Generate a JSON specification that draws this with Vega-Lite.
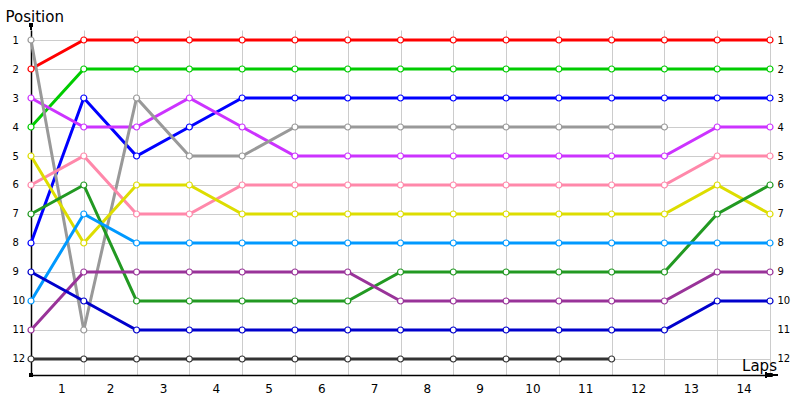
{
  "$schema": "https://vega.github.io/schema/vega-lite/v6.json",
  "width": 739,
  "height": 345,
  "autosize": "none",
  "padding": {"left": 31, "top": 30, "right": 30, "bottom": 25},
  "background": "white",
  "config": {
    "view": {"stroke": null},
    "font": "DejaVu Sans",
    "axis": {"labelFont": "DejaVu Sans", "titleFont": "DejaVu Sans", "labelColor": "black", "titleColor": "black"}
  },
  "data": {
    "values": [
      {"driver": "red", "lap": 0, "pos": 2}, {"driver": "red", "lap": 1, "pos": 1}, {"driver": "red", "lap": 2, "pos": 1}, {"driver": "red", "lap": 3, "pos": 1}, {"driver": "red", "lap": 4, "pos": 1}, {"driver": "red", "lap": 5, "pos": 1}, {"driver": "red", "lap": 6, "pos": 1}, {"driver": "red", "lap": 7, "pos": 1}, {"driver": "red", "lap": 8, "pos": 1}, {"driver": "red", "lap": 9, "pos": 1}, {"driver": "red", "lap": 10, "pos": 1}, {"driver": "red", "lap": 11, "pos": 1}, {"driver": "red", "lap": 12, "pos": 1}, {"driver": "red", "lap": 13, "pos": 1}, {"driver": "red", "lap": 14, "pos": 1},
      {"driver": "green", "lap": 0, "pos": 4}, {"driver": "green", "lap": 1, "pos": 2}, {"driver": "green", "lap": 2, "pos": 2}, {"driver": "green", "lap": 3, "pos": 2}, {"driver": "green", "lap": 4, "pos": 2}, {"driver": "green", "lap": 5, "pos": 2}, {"driver": "green", "lap": 6, "pos": 2}, {"driver": "green", "lap": 7, "pos": 2}, {"driver": "green", "lap": 8, "pos": 2}, {"driver": "green", "lap": 9, "pos": 2}, {"driver": "green", "lap": 10, "pos": 2}, {"driver": "green", "lap": 11, "pos": 2}, {"driver": "green", "lap": 12, "pos": 2}, {"driver": "green", "lap": 13, "pos": 2}, {"driver": "green", "lap": 14, "pos": 2},
      {"driver": "blue", "lap": 0, "pos": 8}, {"driver": "blue", "lap": 1, "pos": 3}, {"driver": "blue", "lap": 2, "pos": 5}, {"driver": "blue", "lap": 3, "pos": 4}, {"driver": "blue", "lap": 4, "pos": 3}, {"driver": "blue", "lap": 5, "pos": 3}, {"driver": "blue", "lap": 6, "pos": 3}, {"driver": "blue", "lap": 7, "pos": 3}, {"driver": "blue", "lap": 8, "pos": 3}, {"driver": "blue", "lap": 9, "pos": 3}, {"driver": "blue", "lap": 10, "pos": 3}, {"driver": "blue", "lap": 11, "pos": 3}, {"driver": "blue", "lap": 12, "pos": 3}, {"driver": "blue", "lap": 13, "pos": 3}, {"driver": "blue", "lap": 14, "pos": 3},
      {"driver": "violet", "lap": 0, "pos": 3}, {"driver": "violet", "lap": 1, "pos": 4}, {"driver": "violet", "lap": 2, "pos": 4}, {"driver": "violet", "lap": 3, "pos": 3}, {"driver": "violet", "lap": 4, "pos": 4}, {"driver": "violet", "lap": 5, "pos": 5}, {"driver": "violet", "lap": 6, "pos": 5}, {"driver": "violet", "lap": 7, "pos": 5}, {"driver": "violet", "lap": 8, "pos": 5}, {"driver": "violet", "lap": 9, "pos": 5}, {"driver": "violet", "lap": 10, "pos": 5}, {"driver": "violet", "lap": 11, "pos": 5}, {"driver": "violet", "lap": 12, "pos": 5}, {"driver": "violet", "lap": 13, "pos": 4}, {"driver": "violet", "lap": 14, "pos": 4},
      {"driver": "grey", "lap": 0, "pos": 1}, {"driver": "grey", "lap": 1, "pos": 11}, {"driver": "grey", "lap": 2, "pos": 3}, {"driver": "grey", "lap": 3, "pos": 5}, {"driver": "grey", "lap": 4, "pos": 5}, {"driver": "grey", "lap": 5, "pos": 4}, {"driver": "grey", "lap": 6, "pos": 4}, {"driver": "grey", "lap": 7, "pos": 4}, {"driver": "grey", "lap": 8, "pos": 4}, {"driver": "grey", "lap": 9, "pos": 4}, {"driver": "grey", "lap": 10, "pos": 4}, {"driver": "grey", "lap": 11, "pos": 4}, {"driver": "grey", "lap": 12, "pos": 4},
      {"driver": "pink", "lap": 0, "pos": 6}, {"driver": "pink", "lap": 1, "pos": 5}, {"driver": "pink", "lap": 2, "pos": 7}, {"driver": "pink", "lap": 3, "pos": 7}, {"driver": "pink", "lap": 4, "pos": 6}, {"driver": "pink", "lap": 5, "pos": 6}, {"driver": "pink", "lap": 6, "pos": 6}, {"driver": "pink", "lap": 7, "pos": 6}, {"driver": "pink", "lap": 8, "pos": 6}, {"driver": "pink", "lap": 9, "pos": 6}, {"driver": "pink", "lap": 10, "pos": 6}, {"driver": "pink", "lap": 11, "pos": 6}, {"driver": "pink", "lap": 12, "pos": 6}, {"driver": "pink", "lap": 13, "pos": 5}, {"driver": "pink", "lap": 14, "pos": 5},
      {"driver": "yellow", "lap": 0, "pos": 5}, {"driver": "yellow", "lap": 1, "pos": 8}, {"driver": "yellow", "lap": 2, "pos": 6}, {"driver": "yellow", "lap": 3, "pos": 6}, {"driver": "yellow", "lap": 4, "pos": 7}, {"driver": "yellow", "lap": 5, "pos": 7}, {"driver": "yellow", "lap": 6, "pos": 7}, {"driver": "yellow", "lap": 7, "pos": 7}, {"driver": "yellow", "lap": 8, "pos": 7}, {"driver": "yellow", "lap": 9, "pos": 7}, {"driver": "yellow", "lap": 10, "pos": 7}, {"driver": "yellow", "lap": 11, "pos": 7}, {"driver": "yellow", "lap": 12, "pos": 7}, {"driver": "yellow", "lap": 13, "pos": 6}, {"driver": "yellow", "lap": 14, "pos": 7},
      {"driver": "darkgreen", "lap": 0, "pos": 7}, {"driver": "darkgreen", "lap": 1, "pos": 6}, {"driver": "darkgreen", "lap": 2, "pos": 10}, {"driver": "darkgreen", "lap": 3, "pos": 10}, {"driver": "darkgreen", "lap": 4, "pos": 10}, {"driver": "darkgreen", "lap": 5, "pos": 10}, {"driver": "darkgreen", "lap": 6, "pos": 10}, {"driver": "darkgreen", "lap": 7, "pos": 9}, {"driver": "darkgreen", "lap": 8, "pos": 9}, {"driver": "darkgreen", "lap": 9, "pos": 9}, {"driver": "darkgreen", "lap": 10, "pos": 9}, {"driver": "darkgreen", "lap": 11, "pos": 9}, {"driver": "darkgreen", "lap": 12, "pos": 9}, {"driver": "darkgreen", "lap": 13, "pos": 7}, {"driver": "darkgreen", "lap": 14, "pos": 6},
      {"driver": "lightblue", "lap": 0, "pos": 10}, {"driver": "lightblue", "lap": 1, "pos": 7}, {"driver": "lightblue", "lap": 2, "pos": 8}, {"driver": "lightblue", "lap": 3, "pos": 8}, {"driver": "lightblue", "lap": 4, "pos": 8}, {"driver": "lightblue", "lap": 5, "pos": 8}, {"driver": "lightblue", "lap": 6, "pos": 8}, {"driver": "lightblue", "lap": 7, "pos": 8}, {"driver": "lightblue", "lap": 8, "pos": 8}, {"driver": "lightblue", "lap": 9, "pos": 8}, {"driver": "lightblue", "lap": 10, "pos": 8}, {"driver": "lightblue", "lap": 11, "pos": 8}, {"driver": "lightblue", "lap": 12, "pos": 8}, {"driver": "lightblue", "lap": 13, "pos": 8}, {"driver": "lightblue", "lap": 14, "pos": 8},
      {"driver": "plum", "lap": 0, "pos": 11}, {"driver": "plum", "lap": 1, "pos": 9}, {"driver": "plum", "lap": 2, "pos": 9}, {"driver": "plum", "lap": 3, "pos": 9}, {"driver": "plum", "lap": 4, "pos": 9}, {"driver": "plum", "lap": 5, "pos": 9}, {"driver": "plum", "lap": 6, "pos": 9}, {"driver": "plum", "lap": 7, "pos": 10}, {"driver": "plum", "lap": 8, "pos": 10}, {"driver": "plum", "lap": 9, "pos": 10}, {"driver": "plum", "lap": 10, "pos": 10}, {"driver": "plum", "lap": 11, "pos": 10}, {"driver": "plum", "lap": 12, "pos": 10}, {"driver": "plum", "lap": 13, "pos": 9}, {"driver": "plum", "lap": 14, "pos": 9},
      {"driver": "navy", "lap": 0, "pos": 9}, {"driver": "navy", "lap": 1, "pos": 10}, {"driver": "navy", "lap": 2, "pos": 11}, {"driver": "navy", "lap": 3, "pos": 11}, {"driver": "navy", "lap": 4, "pos": 11}, {"driver": "navy", "lap": 5, "pos": 11}, {"driver": "navy", "lap": 6, "pos": 11}, {"driver": "navy", "lap": 7, "pos": 11}, {"driver": "navy", "lap": 8, "pos": 11}, {"driver": "navy", "lap": 9, "pos": 11}, {"driver": "navy", "lap": 10, "pos": 11}, {"driver": "navy", "lap": 11, "pos": 11}, {"driver": "navy", "lap": 12, "pos": 11}, {"driver": "navy", "lap": 13, "pos": 10}, {"driver": "navy", "lap": 14, "pos": 10},
      {"driver": "charcoal", "lap": 0, "pos": 12}, {"driver": "charcoal", "lap": 1, "pos": 12}, {"driver": "charcoal", "lap": 2, "pos": 12}, {"driver": "charcoal", "lap": 3, "pos": 12}, {"driver": "charcoal", "lap": 4, "pos": 12}, {"driver": "charcoal", "lap": 5, "pos": 12}, {"driver": "charcoal", "lap": 6, "pos": 12}, {"driver": "charcoal", "lap": 7, "pos": 12}, {"driver": "charcoal", "lap": 8, "pos": 12}, {"driver": "charcoal", "lap": 9, "pos": 12}, {"driver": "charcoal", "lap": 10, "pos": 12}, {"driver": "charcoal", "lap": 11, "pos": 12}
    ]
  },
  "encoding": {
    "x": {
      "field": "lap", "type": "quantitative",
      "scale": {"domain": [0, 14], "nice": false, "zero": false},
      "axis": {
        "values": [0, 1, 2, 3, 4, 5, 6, 7, 8, 9, 10, 11, 12, 13, 14],
        "grid": true, "gridColor": "#cccccc", "gridWidth": 1,
        "ticks": false, "tickSize": 0,
        "domainColor": "black", "domainWidth": 1.5,
        "labelExpr": "datum.value < 14 ? format(datum.value + 1, 'd') : ''",
        "labelOffset": 26.4, "labelPadding": 8, "labelFontSize": 12, "labelBaseline": "top",
        "title": "Laps", "titleFontSize": 15, "titleFontWeight": "normal",
        "titleX": 728, "titleY": -5, "titleAlign": "center", "titleBaseline": "alphabetic"
      }
    },
    "y": {
      "field": "pos", "type": "quantitative",
      "scale": {"domain": [0.655, 12.552], "reverse": true, "nice": false, "zero": false},
      "axis": {
        "values": [1, 2, 3, 4, 5, 6, 7, 8, 9, 10, 11, 12],
        "grid": true, "gridColor": "#cccccc", "gridWidth": 1,
        "ticks": false, "tickSize": 0,
        "domainColor": "black", "domainWidth": 1.5,
        "labelFontSize": 10, "labelAlign": "left", "labelPadding": 19,
        "title": "Position", "titleFontSize": 15, "titleFontWeight": "normal",
        "titleAngle": 0, "titleX": -26, "titleY": -9, "titleAlign": "left", "titleBaseline": "alphabetic"
      }
    },
    "color": {
      "field": "driver", "type": "nominal", "legend": null,
      "scale": {
        "domain": ["red", "green", "blue", "violet", "grey", "pink", "yellow", "darkgreen", "lightblue", "plum", "navy", "charcoal"],
        "range": ["#ff0000", "#00cc00", "#0000ff", "#cc33ff", "#999999", "#ff88aa", "#dddd00", "#229922", "#0099ff", "#993399", "#0000cc", "#333333"]
      }
    }
  },
  "layer": [
    {"mark": {"type": "line", "strokeWidth": 3}},
    {
      "mark": {"type": "point", "filled": false, "fill": "white", "size": 36, "strokeWidth": 1.2, "opacity": 1},
      "encoding": {
        "y": {
          "field": "pos", "type": "quantitative",
          "axis": {
            "orient": "right", "values": [1, 2, 3, 4, 5, 6, 7, 8, 9, 10, 11, 12],
            "grid": false, "domain": false, "ticks": false, "tickSize": 0,
            "labelFontSize": 10, "labelAlign": "left", "labelPadding": 7, "title": null
          }
        }
      }
    },
    {
      "mark": {"type": "rule", "color": "black", "strokeWidth": 1.5},
      "encoding": {
        "x": {"datum": 0, "type": "quantitative"},
        "y": {"datum": 0.48, "type": "quantitative", "axis": null},
        "y2": {"datum": 0.655},
        "color": {"value": "black"}
      }
    },
    {
      "mark": {"type": "rule", "color": "black", "strokeWidth": 1.5},
      "encoding": {
        "x": {"datum": 14, "type": "quantitative"},
        "x2": {"datum": 14.15},
        "y": {"datum": 12.552, "type": "quantitative", "axis": null},
        "color": {"value": "black"}
      }
    },
    {
      "mark": {"type": "point", "filled": true, "size": 12, "opacity": 1, "color": "black"},
      "encoding": {
        "x": {"datum": 0, "type": "quantitative"},
        "y": {"datum": 0.48, "type": "quantitative", "axis": null},
        "color": {"value": "black"}
      }
    },
    {
      "mark": {"type": "point", "filled": true, "size": 12, "opacity": 1, "color": "black"},
      "encoding": {
        "x": {"datum": 0, "type": "quantitative"},
        "y": {"datum": 12.552, "type": "quantitative", "axis": null},
        "color": {"value": "black"}
      }
    },
    {
      "mark": {"type": "point", "filled": true, "size": 170, "opacity": 1, "color": "black", "shape": "M-1,-0.33L1,0L-1,0.33Z"},
      "encoding": {
        "x": {"datum": 14.03, "type": "quantitative"},
        "y": {"datum": 12.552, "type": "quantitative", "axis": null},
        "color": {"value": "black"}
      }
    }
  ],
  "resolve": {"axis": {"y": "independent"}}
}
